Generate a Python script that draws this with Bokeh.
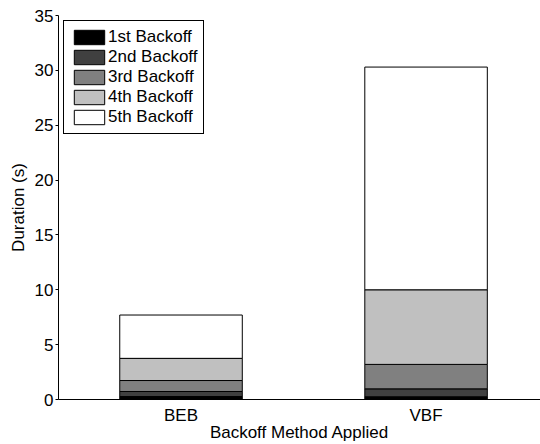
from bokeh.plotting import figure
from bokeh.models import Range1d, Legend, LegendItem, ColumnDataSource, FixedTicker
from bokeh.embed import file_html
from bokeh.resources import INLINE

methods = ["BEB", "VBF"]
stages = ["1st Backoff", "2nd Backoff", "3rd Backoff", "4th Backoff", "5th Backoff"]
backoff1 = [0.27, 0.25]
backoff2 = [0.46, 0.72]
backoff3 = [1.00, 2.23]
backoff4 = [2.02, 6.80]
backoff5 = [3.95, 20.30]
y_ticks = [0, 5, 10, 15, 20, 25, 30, 35]
colors = ["#000000", "#404040", "#808080", "#c0c0c0", "#ffffff"]

x_pos = list(range(1, len(methods) + 1))
keys = ["b1", "b2", "b3", "b4", "b5"]
src = ColumnDataSource(dict(x=x_pos, b1=backoff1, b2=backoff2, b3=backoff3,
                            b4=backoff4, b5=backoff5))

FONT = "Liberation Sans"
FS = "17px"

p = figure(width=540, height=444, x_range=Range1d(0.5, 2.467), y_range=Range1d(0, 35),
           output_backend="svg", toolbar_location=None,
           min_border_left=58, min_border_right=0, min_border_top=15, min_border_bottom=44)

rs = p.vbar_stack(keys, x="x", width=0.5, fill_color=colors, line_color="black",
                  line_width=1, source=src)

legend = Legend(items=[LegendItem(label=s, renderers=[r]) for s, r in zip(stages, rs)],
                location="top_left")
legend.label_text_font = FONT
legend.label_text_font_size = FS
legend.label_text_color = "black"
legend.glyph_width = 38
legend.glyph_height = 18
legend.label_height = 20
legend.spacing = 0
legend.padding = 6
legend.margin = 5
legend.label_standoff = 0
legend.border_line_color = "black"
legend.border_line_alpha = 1
legend.border_line_width = 1
legend.background_fill_alpha = 1
p.add_layout(legend)

p.xgrid.visible = False
p.ygrid.visible = False
p.outline_line_color = None

p.xaxis.ticker = FixedTicker(ticks=x_pos)
p.xaxis.major_label_overrides = {x: m for x, m in zip(x_pos, methods)}
p.xaxis.major_tick_line_color = None
p.xaxis.minor_tick_line_color = None
p.xaxis.axis_label = "Backoff Method Applied"
p.xaxis.major_label_standoff = 0
p.xaxis.axis_label_standoff = -5

p.yaxis.ticker = FixedTicker(ticks=y_ticks)
p.yaxis.minor_tick_line_color = None
p.yaxis.major_tick_out = 3
p.yaxis.major_tick_in = 0
p.yaxis.axis_label = "Duration (s)"
p.yaxis.major_label_standoff = 2
p.yaxis.axis_label_standoff = 4

for ax in (p.xaxis[0], p.yaxis[0]):
    ax.axis_line_color = "black"
    ax.major_label_text_font = FONT
    ax.major_label_text_font_size = FS
    ax.major_label_text_color = "black"
    ax.axis_label_text_font = FONT
    ax.axis_label_text_font_size = FS
    ax.axis_label_text_font_style = "normal"
    ax.axis_label_text_color = "black"
p.yaxis.major_tick_line_color = "black"

open("out.html", "w").write(file_html(p, INLINE))
